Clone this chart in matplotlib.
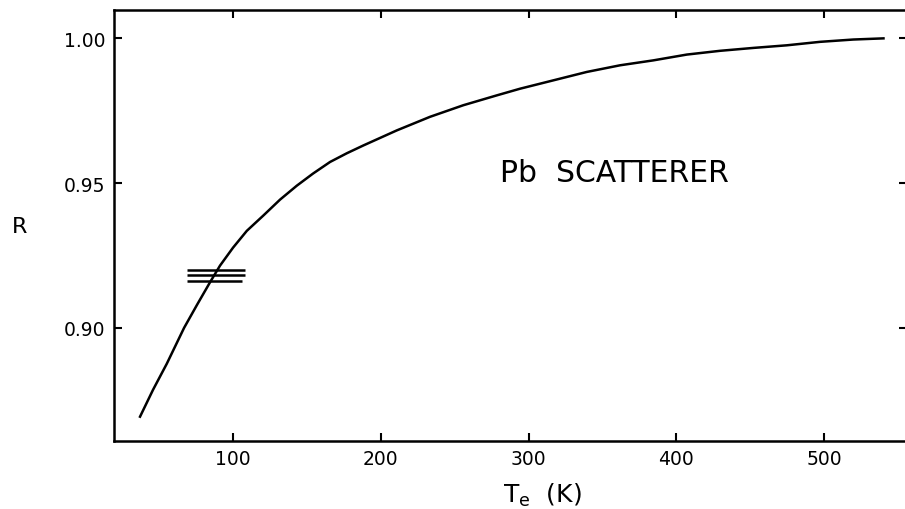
import matplotlib
matplotlib.use("Agg")
import matplotlib.pyplot as plt

# Data
temp_K = [37.3, 46.1, 55.4, 67.1, 75.9, 84.7, 91.4, 100.2, 109.5, 120.7, 132.0,
          143.3, 154.3, 165.8, 177.1, 188.3, 210.9, 233.4, 255.9, 278.5, 294.2,
          316.8, 339.4, 361.9, 384.4, 407.0, 429.5, 452.0, 474.6, 497.1, 519.6, 540.0]
ratio_R = [0.8693, 0.8786, 0.8876, 0.9000, 0.9080, 0.9158, 0.9215, 0.9277, 0.9335,
           0.9388, 0.9443, 0.9491, 0.9533, 0.9573, 0.9603, 0.9630, 0.9682, 0.9729,
           0.9769, 0.9803, 0.9826, 0.9855, 0.9884, 0.9907, 0.9924, 0.9944, 0.9957,
           0.9967, 0.9976, 0.9988, 0.9996, 1.0000]
meas_R = [0.9199, 0.9182, 0.9161]
meas_xmin = [68.9, 68.9, 68.9]
meas_xmax = [108.3, 108.3, 106.1]
xticks = [100, 200, 300, 400, 500]
yticks = [0.90, 0.95, 1.00]
ytick_labels = ["0.90", "0.95", "1.00"]

W, H = 905, 510
fig = plt.figure(figsize=(W / 100, H / 100), dpi=100)
ax = fig.add_axes([114 / W, (H - 441.7) / H, (907 - 114) / W, (441.7 - 11) / H])

ax.plot(temp_K, ratio_R, color="black", lw=1.8, solid_joinstyle="round")
ax.hlines(meas_R, meas_xmin, meas_xmax, color="black", lw=1.8)

ax.set_xlim(19.7, 555.9)
ax.set_ylim(0.861, 1.0098)
ax.set_xticks(xticks)
ax.set_yticks(yticks)
ax.set_yticklabels(ytick_labels)
ax.tick_params(direction="in", length=6, width=1.5, labelsize=13.5,
               top=True, right=True, pad=6, colors="black")
ax.spines["right"].set_visible(False)
for s in ax.spines.values():
    s.set_linewidth(1.8)

fig.text(500 / W, 1 - 173 / H, "Pb  SCATTERER", fontsize=21.5,
         va="center", ha="left")
fig.text(20 / W, 1 - 227 / H, "R", fontsize=16, ha="center", va="center")
fig.text(503 / W, 1 - 495 / H, r"T$_{\mathregular{e}}$  (K)", fontsize=18,
         ha="left", va="center")

fig.savefig("out.png", dpi=100)
